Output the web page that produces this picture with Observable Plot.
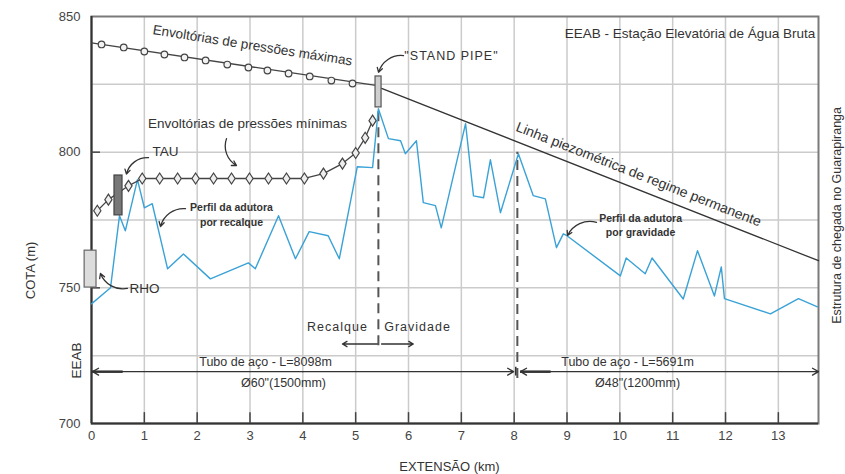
<!DOCTYPE html>
<html><head><meta charset="utf-8">
<script src="https://cdn.jsdelivr.net/npm/d3@7"></script>
<script src="https://cdn.jsdelivr.net/npm/@observablehq/plot@0.6"></script>
<style>body{margin:0;background:#fff}</style>
</head><body><div id="chart"></div>
<script>
// Perfil da adutora (blue line)
const profileKm   = [0, 0.36, 0.53, 0.64, 0.87, 1.0, 1.15, 1.44, 1.74, 2.25, 2.97, 3.10, 3.54, 3.86, 4.12, 4.48, 4.69, 5.03, 5.32, 5.43, 5.62, 5.85, 5.94, 6.15, 6.28, 6.51, 6.62, 7.08, 7.23, 7.42, 7.55, 7.74, 8.08, 8.36, 8.59, 8.80, 8.93, 9.0, 10.01, 10.12, 10.48, 10.61, 11.2, 11.47, 11.79, 11.92, 11.98, 12.85, 13.38, 13.74];
const profileCota = [744.1, 750, 776.6, 771, 789.9, 779.5, 781, 757, 762.5, 753.3, 759.2, 757, 776.6, 760.7, 770.7, 769.2, 760.7, 794.6, 794.3, 816, 805, 804.2, 799.4, 804.2, 781.4, 780.3, 772.1, 810.5, 783.9, 783.2, 797.2, 777.7, 799.4, 784, 782.8, 764.8, 769.9, 769.2, 754.4, 761, 755.2, 761, 745.9, 763.7, 747, 757.7, 746, 740.4, 746, 743];
// Envoltória de pressões máximas
const maxLineKm   = [0, 5.38];
const maxLineCota = [840.3, 824.6];
const maxMarkKm   = [0.19, 0.61, 1.0, 1.38, 1.76, 2.16, 2.57, 2.97, 3.33, 3.73, 4.13, 4.54, 4.94];
const maxMarkCota = [839.7, 838.6, 837.1, 836.0, 834.9, 833.8, 832.3, 831.2, 830.1, 829.0, 827.9, 826.4, 825.3];
// Envoltória de pressões mínimas
const minKm   = [0.11, 0.32, 0.70, 0.96, 1.29, 1.63, 1.97, 2.31, 2.65, 2.99, 3.35, 3.69, 4.03, 4.39, 4.75, 5.0, 5.18, 5.32];
const minCota = [778.4, 782.5, 787.6, 790.3, 790.3, 790.3, 790.3, 790.3, 790.3, 790.3, 790.3, 790.3, 790.3, 792.1, 795.8, 799.7, 805.3, 811.6];
// Linha piezométrica de regime permanente
const piezoKm   = [5.49, 13.76];
const piezoCota = [823.5, 760];
// Axis ticks
const xTicks = d3.range(0, 14);
const yTicks = [700, 750, 800, 850];
const gridCota = [725, 750, 775, 800, 825];
const X_MAX = 13.76;

const zip = (a, b) => a.map((v, i) => ({x: v, y: b[i]}));
const profile = zip(profileKm, profileCota);
const maxLine = zip(maxLineKm, maxLineCota);
const maxMarks = zip(maxMarkKm, maxMarkCota);
const minEnv = zip(minKm, minCota);
const piezo = zip(piezoKm, piezoCota);

const tallDiamond = {
  draw(context, size) {
    const s = Math.sqrt(size / Math.PI);
    const w = s * 0.72, h = s * 1.1;
    context.moveTo(0, -h); context.lineTo(w, 0); context.lineTo(0, h); context.lineTo(-w, 0); context.closePath();
  }
};

const F = "Liberation Sans, Arial, sans-serif";
const FN = "Liberation Sans Narrow, Arial Narrow, Liberation Sans, sans-serif";
const txt = (t, x, y, o = {}) => Plot.text([t], {x: () => x, y: () => y, text: d => d, fontFamily: F, fontSize: 13, fill: "#333", ...o});
const arr = (x1, y1, x2, y2, o = {}) => Plot.arrow([0], {x1: () => x1, y1: () => y1, x2: () => x2, y2: () => y2, stroke: "#333", strokeWidth: 1.3, headLength: 6, ...o});

const chart = Plot.plot({
  width: 845, height: 474,
  marginLeft: 91, marginRight: 27, marginTop: 16, marginBottom: 51,
  x: {domain: [0, X_MAX]},
  y: {domain: [700, 850]},
  style: {fontFamily: F, fontSize: "13px", background: "#fff"},
  marks: [
    Plot.ruleX(xTicks.filter(d => d > 0), {stroke: "#cbcbcb", strokeWidth: 1.5}),
    Plot.ruleY(gridCota, {stroke: "#cbcbcb", strokeWidth: 1.5}),
    Plot.frame({stroke: "#7a7a7a", strokeWidth: 2}),
    Plot.ruleX([0], {stroke: "#333", strokeWidth: 2}),
    Plot.ruleY([700], {stroke: "#333", strokeWidth: 2}),
    Plot.ruleX(xTicks.filter(d => d > 0), {y1: 700, y2: 704, stroke: "#444", strokeWidth: 1.5}),
    Plot.ruleY([750, 800], {x1: 0, x2: 0.17, stroke: "#444", strokeWidth: 1.5}),
    Plot.axisX({ticks: xTicks, tickSize: 0, tickPadding: 7, fontSize: 13, fill: "#444", label: null}),
    Plot.axisY({ticks: yTicks, tickSize: 0, tickPadding: 11, fontSize: 13, fill: "#444", label: null}),

    // dashed verticals
    Plot.ruleX([5.43], {y1: 728.7, y2: 816, stroke: "#555", strokeWidth: 2, strokeDasharray: "10,6"}),
    Plot.ruleX([8.06], {y1: 716.6, y2: 800, stroke: "#555", strokeWidth: 2, strokeDasharray: "10,6"}),

    // lines
    Plot.line(piezo, {x: "x", y: "y", stroke: "#333", strokeWidth: 1.3}),
    Plot.line(profile, {x: "x", y: "y", stroke: "#3aa2d6", strokeWidth: 1.4}),
    Plot.line(maxLine, {x: "x", y: "y", stroke: "#444", strokeWidth: 1.3}),
    Plot.dot(maxMarks, {x: "x", y: "y", r: 3.3, fill: "#f2f2f2", stroke: "#444", strokeWidth: 1.2}),
    Plot.line(minEnv, {x: "x", y: "y", stroke: "#444", strokeWidth: 1.3}),
    Plot.dot(minEnv, {x: "x", y: "y", symbol: tallDiamond, r: 5, fill: "#eeeeee", stroke: "#444", strokeWidth: 1.2}),

    // structures
    Plot.rect([0], {x1: () => -0.13, x2: () => 0.095, y1: () => 750.1, y2: () => 763.7, fill: "#dcdcdc", stroke: "#666", strokeWidth: 1.2}),
    Plot.rect([0], {x1: () => 0.435, x2: () => 0.587, y1: () => 776.7, y2: () => 791.4, fill: "#777", stroke: "#444", strokeWidth: 1.2}),
    Plot.rect([0], {x1: () => 5.376, x2: () => 5.49, y1: () => 816.5, y2: () => 827.9, fill: "#cfcfcf", stroke: "#555", strokeWidth: 1.2}),

    // tube dimension lines
    arr(4, 719.1, 0.02, 719.1, {headLength: 8}),
    arr(4, 719.1, 7.99, 719.1, {headLength: 8}),
    arr(10.9, 719.1, 8.12, 719.1, {headLength: 8}),
    arr(10.9, 719.1, X_MAX, 719.1, {headLength: 8}),
    Plot.ruleY([719.1], {x1: 0.02, x2: 0.6, stroke: "#333", strokeWidth: 2.5}),
    Plot.ruleY([719.1], {x1: 8.12, x2: 8.7, stroke: "#333", strokeWidth: 2.5}),
    Plot.ruleX([8.03], {y1: 717.5, y2: 720.7, stroke: "#333", strokeWidth: 1.5}),
    // recalque / gravidade arrows
    arr(5.41, 729.3, 4.75, 729.3),
    arr(5.49, 729.3, 6.09, 729.3),

    // pointer arrows
    arr(1.079, 798.0, 0.662, 791.9, {bend: -40}),
    arr(0.681, 749.8, 0.17, 755.3, {bend: 40}),
    arr(5.906, 835.6, 5.433, 829.4, {bend: -40}),
    arr(2.555, 805.0, 2.745, 795.1, {bend: -40}),
    arr(1.779, 779.2, 1.306, 772.6, {bend: -40}),
    arr(9.559, 774.1, 9.01, 769.3, {bend: -40}),

    // texts
    txt("EEAB - Estação Elevatória de Água Bruta", 13.70, 843.7, {textAnchor: "end", fontSize: 13.5}),
    txt("Envoltórias de pressões máximas", 3.047, 839.3, {rotate: 9, fontSize: 13.5}),
    txt("Envoltórias de pressões mínimas", 2.953, 810.6, {fontSize: 13.5}),
    txt("TAU", 1.401, 800.2, {fontSize: 13.5}),
    txt("RHO", 1.003, 749.8, {fontSize: 13.5}),
    txt("\"STAND PIPE\"", 6.814, 835.6, {fontSize: 12.5}),
    txt("Recalque", 4.656, 735.4, {fontSize: 12.5}),
    txt("Gravidade", 6.171, 735.4, {fontSize: 12.5}),
    txt("Tubo de aço - L=8098m", 3.294, 722.8, {fontSize: 12.5}),
    txt("Ø60\"(1500mm)", 3.634, 715.1, {fontSize: 12.5}),
    txt("Tubo de aço - L=5691m", 10.146, 722.8, {fontSize: 12.5}),
    txt("Ø48\"(1200mm)", 10.335, 715.1, {fontSize: 12.5}),
    txt("Linha piezométrica de regime permanente", 10.354, 791.8, {rotate: 21.5, fontSize: 14}),
    txt("Perfil da adutora", 2.65, 779.6, {fontFamily: FN, fontWeight: "bold", fontSize: 10.5}),
    txt("por recalque", 2.65, 774.1, {fontFamily: FN, fontWeight: "bold", fontSize: 10.5}),
    txt("Perfil da adutora", 10.392, 775.6, {fontFamily: FN, fontWeight: "bold", fontSize: 10.5}),
    txt("por gravidade", 10.392, 770.4, {fontFamily: FN, fontWeight: "bold", fontSize: 10.5}),
    txt("EXTENSÃO (km)", 6.776, 684.2, {fontSize: 13}),
    txt("COTA (m)", -1.155, 756.4, {rotate: -90, fontSize: 13}),
    txt("EEAB", -0.284, 723.2, {rotate: -90, fontSize: 13.5}),
    txt("Estrutura de chegada no Guarapiranga", 14.102, 776.7, {rotate: -90, fontSize: 12.5})
  ]
});
d3.select(chart).selectAll("text")
  .filter(function() { return ["Recalque", "Gravidade", "\"STAND PIPE\""].includes(this.textContent); })
  .style("letter-spacing", "1px");
document.getElementById("chart").append(chart);
</script>
</body></html>
